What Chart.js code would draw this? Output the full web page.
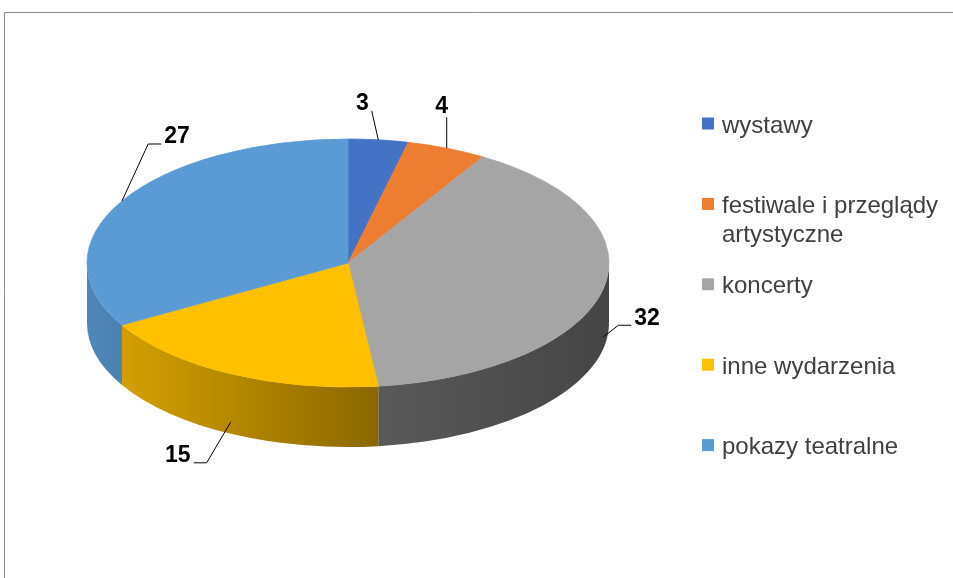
<!DOCTYPE html>
<html lang="pl">
<head>
<meta charset="utf-8">
<title>Wydarzenia</title>
<script src="https://cdn.jsdelivr.net/npm/chart.js@4.4.1/dist/chart.umd.min.js"></script>
<style>
  html, body { margin: 0; padding: 0; background: #fff; }
  #wrap { width: 953px; height: 578px; }
</style>
</head>
<body>
<div id="wrap"><canvas id="pieChart" width="953" height="578"></canvas></div>
<script>
// --- DATOS ---
const categories = ['wystawy', 'festiwale i przeglądy artystyczne', 'koncerty', 'inne wydarzenia', 'pokazy teatralne'];
const eventCounts = [3, 4, 32, 15, 27];
const sliceColors = ['#4472C4', '#ED7D31', '#A5A5A5', '#FFC000', '#5B9BD5'];

// --- AYUDAS ---
function darken(hex, f) {
    const n = parseInt(hex.slice(1), 16);
    const r = Math.round(((n >> 16) & 255) * f);
    const g = Math.round(((n >> 8) & 255) * f);
    const b = Math.round((n & 255) * f);
    return `rgb(${r},${g},${b})`;
}

function wrapWords(ctx, text, maxWidth) {
    const words = text.split(' ');
    const lines = [];
    let line = '';
    words.forEach(w => {
        const test = line ? line + ' ' + w : w;
        if (line && ctx.measureText(test).width > maxWidth) {
            lines.push(line);
            line = w;
        } else {
            line = test;
        }
    });
    if (line) lines.push(line);
    return lines;
}

// pie "3D": paredes laterales + cara superior aplastada
const pie3d = {
    id: 'pie3d',
    beforeDraw(chart) {
        const ctx = chart.ctx;
        ctx.save();
        ctx.strokeStyle = '#8c8c8c';
        ctx.lineWidth = 1;
        ctx.beginPath();
        ctx.moveTo(4.5, chart.height);
        ctx.lineTo(4.5, 12.5);
        ctx.lineTo(chart.width, 12.5);
        ctx.stroke();
        ctx.restore();
    },
    beforeDatasetsDraw(chart, args, opts) {
        const ctx = chart.ctx;
        const arcs = chart.getDatasetMeta(0).data;
        const { x: cx, y: cy, outerRadius: rx } = arcs[0];
        const ry = rx * opts.tilt;
        const colors = chart.data.datasets[0].backgroundColor;

        arcs.forEach((arc, i) => {
            const a0 = Math.max(arc.startAngle, 0);
            const a1 = Math.min(arc.endAngle, Math.PI);
            if (a1 <= a0) return; // solo la mitad frontal es visible
            const grad = ctx.createLinearGradient(cx - rx, 0, cx + rx, 0);
            opts.shade.forEach(([stop, f]) => grad.addColorStop(stop, darken(colors[i], f)));
            ctx.beginPath();
            ctx.ellipse(cx, cy, rx, ry, 0, a0, a1);
            ctx.ellipse(cx, cy + opts.depth, rx, ry, 0, a1, a0, true);
            ctx.closePath();
            ctx.fillStyle = grad;
            ctx.fill();
        });

        ctx.save();
        ctx.translate(cx, cy);
        ctx.scale(1, opts.tilt);
        ctx.translate(-cx, -cy);
    },
    afterDatasetsDraw(chart) {
        chart.ctx.restore();
    }
};

// etiquetas de valor con líneas guía
const valueLabels = {
    id: 'valueLabels',
    afterDraw(chart, args, opts) {
        const ctx = chart.ctx;
        const p3 = chart.options.plugins.pie3d;
        const arcs = chart.getDatasetMeta(0).data;
        const values = chart.data.datasets[0].data;
        ctx.save();
        ctx.font = opts.font;
        ctx.fillStyle = '#000';
        ctx.strokeStyle = '#000';
        ctx.lineWidth = 1;
        ctx.textAlign = 'center';
        ctx.textBaseline = 'middle';
        arcs.forEach((arc, i) => {
            const rx = arc.outerRadius, ry = rx * p3.tilt;
            const mid = (arc.startAngle + arc.endAngle) / 2;
            const ax = arc.x + rx * Math.cos(mid);
            let ay = arc.y + ry * Math.sin(mid);
            if (Math.sin(mid) > 0) ay += p3.depth * 0.8;
            const [dx, dy] = opts.offsets[i];
            const tx = ax + dx, ty = ay + dy;
            const text = String(values[i]);
            const w = ctx.measureText(text).width;
            const left = tx - w / 2 - 3, right = tx + w / 2 + 3;

            ctx.beginPath();
            if (ax > right || ax < left) {
                const edge = ax > right ? right : left;
                const dir = ax > right ? 1 : -1;
                const ey = ty + 7;
                ctx.moveTo(edge, ey);
                if (Math.abs(ax - edge) > 15) ctx.lineTo(edge + dir * 13, ey);
                ctx.lineTo(ax, ay);
            } else {
                ctx.moveTo(ax, ty + 11);
                ctx.lineTo(ax, ay);
            }
            ctx.stroke();
            ctx.fillText(text, tx, ty);
        });
        ctx.restore();
    }
};

// leyenda a la derecha (con salto de línea)
const sideLegend = {
    id: 'sideLegend',
    afterDraw(chart, args, opts) {
        const ctx = chart.ctx;
        const colors = chart.data.datasets[0].backgroundColor;
        ctx.save();
        ctx.font = opts.font;
        ctx.textAlign = 'left';
        ctx.textBaseline = 'alphabetic';
        chart.data.labels.forEach((label, i) => {
            const y = opts.top + i * opts.step;
            ctx.fillStyle = colors[i];
            ctx.fillRect(opts.x, y - 6, 12, 12);
            ctx.fillStyle = opts.color;
            wrapWords(ctx, label, opts.maxWidth).forEach((line, j) => {
                ctx.fillText(line, opts.x + 20, y + 9 + j * opts.lineHeight);
            });
        });
        ctx.restore();
    }
};

// --- GRÁFICA ---
const ctx = document.getElementById('pieChart').getContext('2d');
new Chart(ctx, {
    type: 'pie',
    data: {
        labels: categories,
        datasets: [{
            data: eventCounts,
            backgroundColor: sliceColors,
            borderColor: sliceColors,
            borderWidth: 1,
            clip: false
        }]
    },
    options: {
        responsive: false,
        animation: false,
        events: [],
        radius: 261,
        layout: { padding: { left: 0, right: 257, top: 2, bottom: 54 } },
        plugins: {
            legend: { display: false },
            tooltip: { enabled: false },
            pie3d: { tilt: 124 / 261, depth: 60, shade: [[0, 0.87], [0.56, 0.54], [1, 0.42]] },
            valueLabels: {
                font: 'bold 23px "Liberation Sans", Arial, sans-serif',
                offsets: [[-16, -36], [-5, -42], [44, -19], [-53, 34], [55, -64]]
            },
            sideLegend: {
                x: 702, top: 123.5, step: 80.4, lineHeight: 29, maxWidth: 226,
                font: '24px "Liberation Sans", Arial, sans-serif', color: '#404040'
            }
        }
    },
    plugins: [pie3d, valueLabels, sideLegend]
});
</script>
</body>
</html>
